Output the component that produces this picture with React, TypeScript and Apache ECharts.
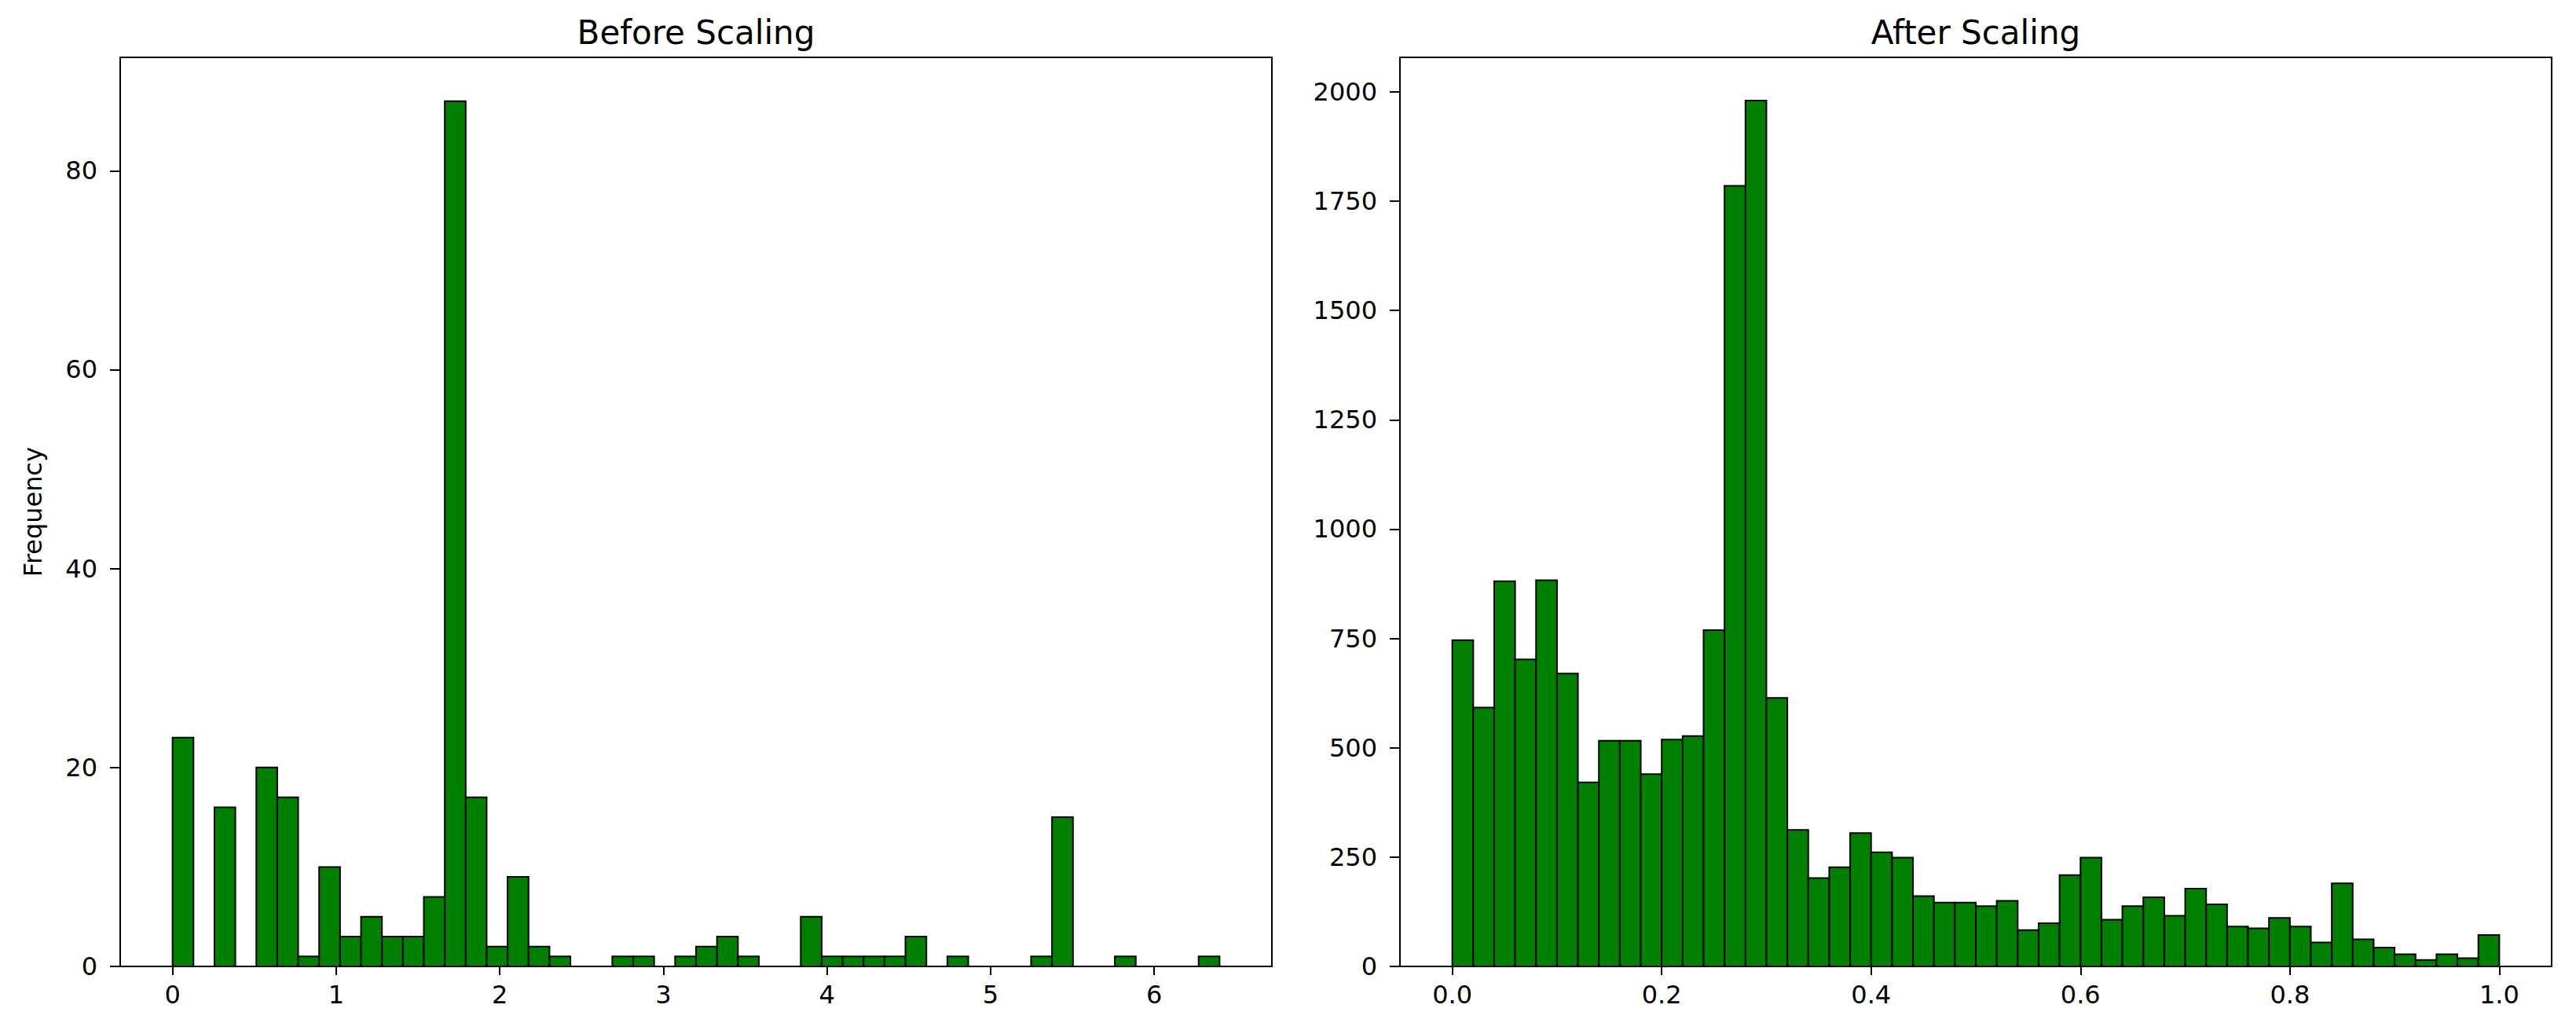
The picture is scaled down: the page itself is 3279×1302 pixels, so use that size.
import React, { useEffect, useRef } from "react";
import * as echarts from "echarts";

// ---- Data ----
const beforeRangeStart = 0;
const beforeRangeEnd = 6.4;
const beforeCounts = [
  23, 0, 16, 0, 20, 17, 1, 10, 3, 5,
  3, 3, 7, 87, 17, 2, 9, 2, 1, 0,
  0, 1, 1, 0, 1, 2, 3, 1, 0, 0,
  5, 1, 1, 1, 1, 3, 0, 1, 0, 0,
  0, 1, 15, 0, 0, 1, 0, 0, 0, 1,
];
const afterRangeStart = 0;
const afterRangeEnd = 1;
const afterCounts = [
  746, 592, 881, 702, 883, 670, 421, 516, 516, 440,
  519, 527, 769, 1785, 1980, 614, 312, 202, 227, 305,
  261, 249, 161, 146, 146, 138, 150, 83, 99, 209,
  249, 107, 138, 158, 116, 178, 142, 91, 87, 111,
  91, 55, 190, 62, 43, 28, 15, 28, 19, 72,
];
const beforeXTicks = [0, 1, 2, 3, 4, 5, 6];
const beforeYTicks = [0, 20, 40, 60, 80];
const afterXTicks = [0, 0.2, 0.4, 0.6, 0.8, 1.0];
const afterYTicks = [0, 250, 500, 750, 1000, 1250, 1500, 1750, 2000];
const titles = ["Before Scaling", "After Scaling"];
const yName = "Frequency";

function toBins(start: number, end: number, counts: number[]) {
  const w = (end - start) / counts.length;
  return counts.map((c, i) => [start + i * w, start + (i + 1) * w, c]);
}

const FONT = "DejaVu Sans";

export default function App() {
  const ref = useRef<HTMLDivElement>(null);
  useEffect(() => {
    if (!ref.current) return;
    const chart = echarts.init(ref.current, undefined, { renderer: "svg" });

    const renderItem = (params: any, api: any) => {
      const x0 = api.value(0);
      const x1 = api.value(1);
      const y = api.value(2);
      if (!y) return { type: "group", children: [] };
      const p0 = api.coord([x0, y]);
      const p1 = api.coord([x1, 0]);
      return {
        type: "rect",
        shape: { x: p0[0], y: p0[1], width: p1[0] - p0[0], height: p1[1] - p0[1] },
        style: { fill: "#008000", stroke: "#000000", lineWidth: 2 },
      };
    };

    const axisCommon = {
      splitLine: { show: false },
      axisLine: { show: true, onZero: false, lineStyle: { color: "#000", width: 2 } },
    };
    const xLabel = { color: "#000", fontSize: 32, fontFamily: FONT, margin: 20 };
    const yLabel = { color: "#000", fontSize: 32, fontFamily: FONT, margin: 29, formatter: (v: number) => String(v) };

    chart.setOption({
      animation: false,
      backgroundColor: "#ffffff",
      title: [
        {
          text: titles[0],
          left: 886,
          top: 20,
          padding: 0,
          textAlign: "center",
          textStyle: { fontFamily: FONT, fontSize: 42, fontWeight: "normal", color: "#000" },
        },
        {
          text: titles[1],
          left: 2515,
          top: 20,
          padding: 0,
          textAlign: "center",
          textStyle: { fontFamily: FONT, fontSize: 42, fontWeight: "normal", color: "#000" },
        },
      ],
      grid: [
        { left: 153, top: 73, width: 1466, height: 1157, show: true, borderColor: "#000", borderWidth: 2, backgroundColor: "transparent" },
        { left: 1782, top: 73, width: 1466, height: 1157, show: true, borderColor: "#000", borderWidth: 2, backgroundColor: "transparent" },
      ],
      xAxis: [
        {
          gridIndex: 0,
          type: "value",
          min: -0.32,
          max: 6.72,
          ...axisCommon,
          axisTick: { show: true, length: 11, customValues: beforeXTicks, lineStyle: { color: "#000", width: 2 } },
          axisLabel: { ...xLabel, customValues: beforeXTicks },
        },
        {
          gridIndex: 1,
          type: "value",
          min: -0.05,
          max: 1.05,
          ...axisCommon,
          axisTick: { show: true, length: 11, customValues: afterXTicks, lineStyle: { color: "#000", width: 2 } },
          axisLabel: { ...xLabel, customValues: afterXTicks, formatter: (v: number) => v.toFixed(1) },
        },
      ],
      yAxis: [
        {
          gridIndex: 0,
          type: "value",
          min: 0,
          max: 91.4,
          ...axisCommon,
          name: yName,
          nameLocation: "middle",
          nameGap: 95,
          nameTextStyle: { fontFamily: FONT, fontSize: 32, color: "#000" },
          axisTick: { show: true, length: 13, customValues: beforeYTicks, lineStyle: { color: "#000", width: 2 } },
          axisLabel: { ...yLabel, customValues: beforeYTicks },
        },
        {
          gridIndex: 1,
          type: "value",
          min: 0,
          max: 2079,
          ...axisCommon,
          axisTick: { show: true, length: 13, customValues: afterYTicks, lineStyle: { color: "#000", width: 2 } },
          axisLabel: { ...yLabel, customValues: afterYTicks },
        },
      ],
      series: [
        {
          type: "custom",
          xAxisIndex: 0,
          yAxisIndex: 0,
          renderItem,
          encode: { x: [0, 1], y: 2 },
          data: toBins(beforeRangeStart, beforeRangeEnd, beforeCounts),
        },
        {
          type: "custom",
          xAxisIndex: 1,
          yAxisIndex: 1,
          renderItem,
          encode: { x: [0, 1], y: 2 },
          data: toBins(afterRangeStart, afterRangeEnd, afterCounts),
        },
      ],
    });
    return () => chart.dispose();
  }, []);
  return (
    <div
      ref={ref}
      style={{ position: "fixed", left: 0, top: 0, width: 3279, height: 1302, background: "#fff" }}
    />
  );
}
